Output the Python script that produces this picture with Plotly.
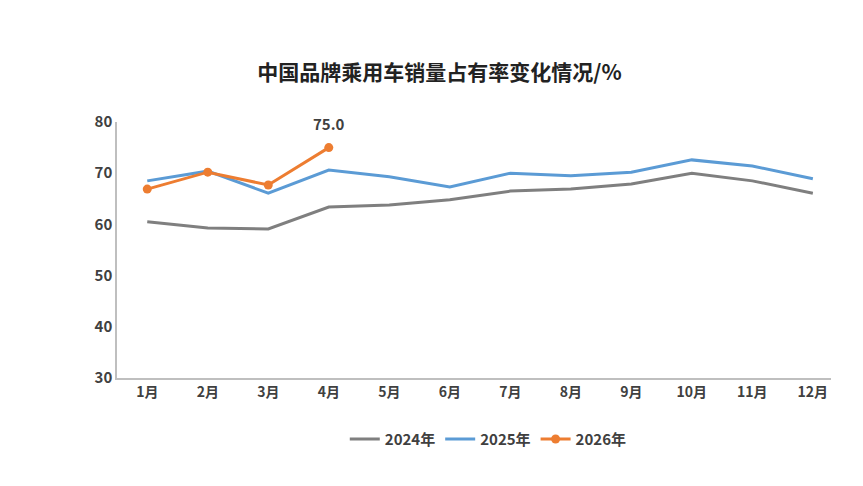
import plotly.graph_objects as go

months = ["1月","2月","3月","4月","5月","6月","7月","8月","9月","10月","11月","12月"]
s2024 = [60.5,59.3,59.1,63.4,63.8,64.8,66.5,66.9,67.9,70.0,68.5,66.1]
s2025 = [68.5,70.4,66.1,70.6,69.3,67.3,70.0,69.5,70.2,72.6,71.4,68.9]
s2026 = [66.9,70.2,67.7,75.0]

fig = go.Figure()
fig.add_trace(go.Scatter(x=months, y=s2024, name="2024年", mode="lines", line=dict(color="#7f7f7f", width=3)))
fig.add_trace(go.Scatter(x=months, y=s2025, name="2025年", mode="lines", line=dict(color="#5b9bd5", width=3)))
fig.add_trace(go.Scatter(x=months[:4], y=s2026, name="2026年", mode="lines+markers",
                         line=dict(color="#ed7d31", width=3), marker=dict(size=9)))
fig.add_annotation(x=months[3], y=s2026[3], text="<b>75.0</b>", showarrow=False, yshift=24,
                   font=dict(size=15, color="#404040", family="Noto Sans CJK SC"))
fig.update_layout(
    width=863, height=486, paper_bgcolor="white", plot_bgcolor="white",
    margin=dict(l=109, r=40, t=114, b=116),
    title=dict(text="<b>中国品牌乘用车销量占有率变化情况/%</b>", x=0.5, y=0.868, xanchor="center", yanchor="middle",
               font=dict(size=21, color="#222", family="Noto Sans CJK SC")),
    font=dict(family="Noto Sans CJK SC", size=14, color="#404040"),
    xaxis=dict(showline=True, linecolor="#bfbfbf", linewidth=1.5, showgrid=False, ticks="",
               tickfont=dict(size=14), range=[-0.5, 11.3], tickprefix="<b>", ticksuffix="</b>"),
    yaxis=dict(range=[30, 80], dtick=10, showline=True, linecolor="#bfbfbf", linewidth=1.5,
               showgrid=False, zeroline=False, tickfont=dict(size=15), ticks="", ticklen=0,
               tickprefix="<b>", ticksuffix="</b>"),
    legend=dict(orientation="h", x=0.52, xanchor="center", y=-0.175, yanchor="top",
                font=dict(size=15, color="#404040")),
)
for t in fig.data:
    t.name = "<b>" + t.name + "</b>"
fig.write_html("out.html")
